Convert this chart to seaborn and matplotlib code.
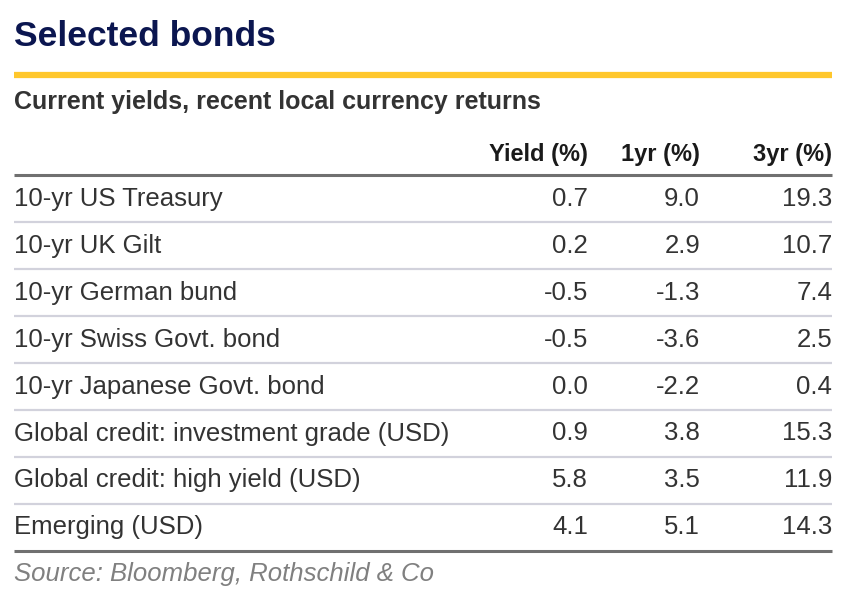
import matplotlib
matplotlib.use("Agg")
import matplotlib.pyplot as plt
import seaborn as sns
import pandas as pd

sns.set_theme(style="white")
plt.rcParams['font.family'] = ['Liberation Sans', 'DejaVu Sans']

title = "Selected bonds"
subtitle = "Current yields, recent local currency returns"
source = "Source: Bloomberg, Rothschild & Co"
columns = ["Yield (%)", "1yr (%)", "3yr (%)"]
bonds = ["10-yr US Treasury", "10-yr UK Gilt", "10-yr German bund",
         "10-yr Swiss Govt. bond", "10-yr Japanese Govt. bond",
         "Global credit: investment grade (USD)",
         "Global credit: high yield (USD)", "Emerging (USD)"]
yield_pct = [0.7, 0.2, -0.5, -0.5, 0.0, 0.9, 5.8, 4.1]
ret_1yr = [9.0, 2.9, -1.3, -3.6, -2.2, 3.8, 3.5, 5.1]
ret_3yr = [19.3, 10.7, 7.4, 2.5, 0.4, 15.3, 11.9, 14.3]

df = pd.DataFrame({"Bond": bonds, columns[0]: yield_pct,
                   columns[1]: ret_1yr, columns[2]: ret_3yr})

fig = plt.figure(figsize=(8.64, 6.06), dpi=100)
ax = fig.add_axes([0, 0, 1, 1])
ax.set_xlim(0, 864)
ax.set_ylim(606, 0)
ax.axis("off")

left, right = 14, 832
col_right = [588, 700, 832]
navy = "#0b1650"
text_c = "#333333"

ax.text(left, 37, title, fontsize=25.5, fontweight="bold", color=navy,
        ha="left", va="center")
ax.plot([left, right], [75, 75], color="#FFC72C", lw=4.5, solid_capstyle="butt")
ax.text(left, 102, subtitle, fontsize=18, fontweight="bold", color=text_c,
        ha="left", va="center")

header_y = 155
for c, xr in zip(columns, col_right):
    ax.text(xr, header_y, c, fontsize=17, fontweight="bold", color="#1a1a1a",
            ha="right", va="center")
ax.plot([left, right], [175, 175], color="#707070", lw=2.2, solid_capstyle="butt")

row_h = 46.9
y0 = 199
for i, row in df.iterrows():
    y = y0 + i * row_h
    ax.text(left, y, row["Bond"], fontsize=18.5, color=text_c, ha="left", va="center")
    for c, xr in zip(columns, col_right):
        ax.text(xr, y, f"{row[c]:.1f}", fontsize=18.5, color=text_c,
                ha="right", va="center")
    if i < len(df) - 1:
        ly = y + row_h / 2
        ax.plot([left, right], [ly, ly], color="#d2d2dc", lw=1.6, solid_capstyle="butt")

bottom_y = y0 + (len(df) - 1) * row_h + 24
ax.plot([left, right], [bottom_y, bottom_y], color="#707070", lw=2.2, solid_capstyle="butt")
ax.text(left, 574, source, fontsize=18.5, fontstyle="italic", color="#808080",
        ha="left", va="center")

fig.savefig("out.png", dpi=100, facecolor="white")
